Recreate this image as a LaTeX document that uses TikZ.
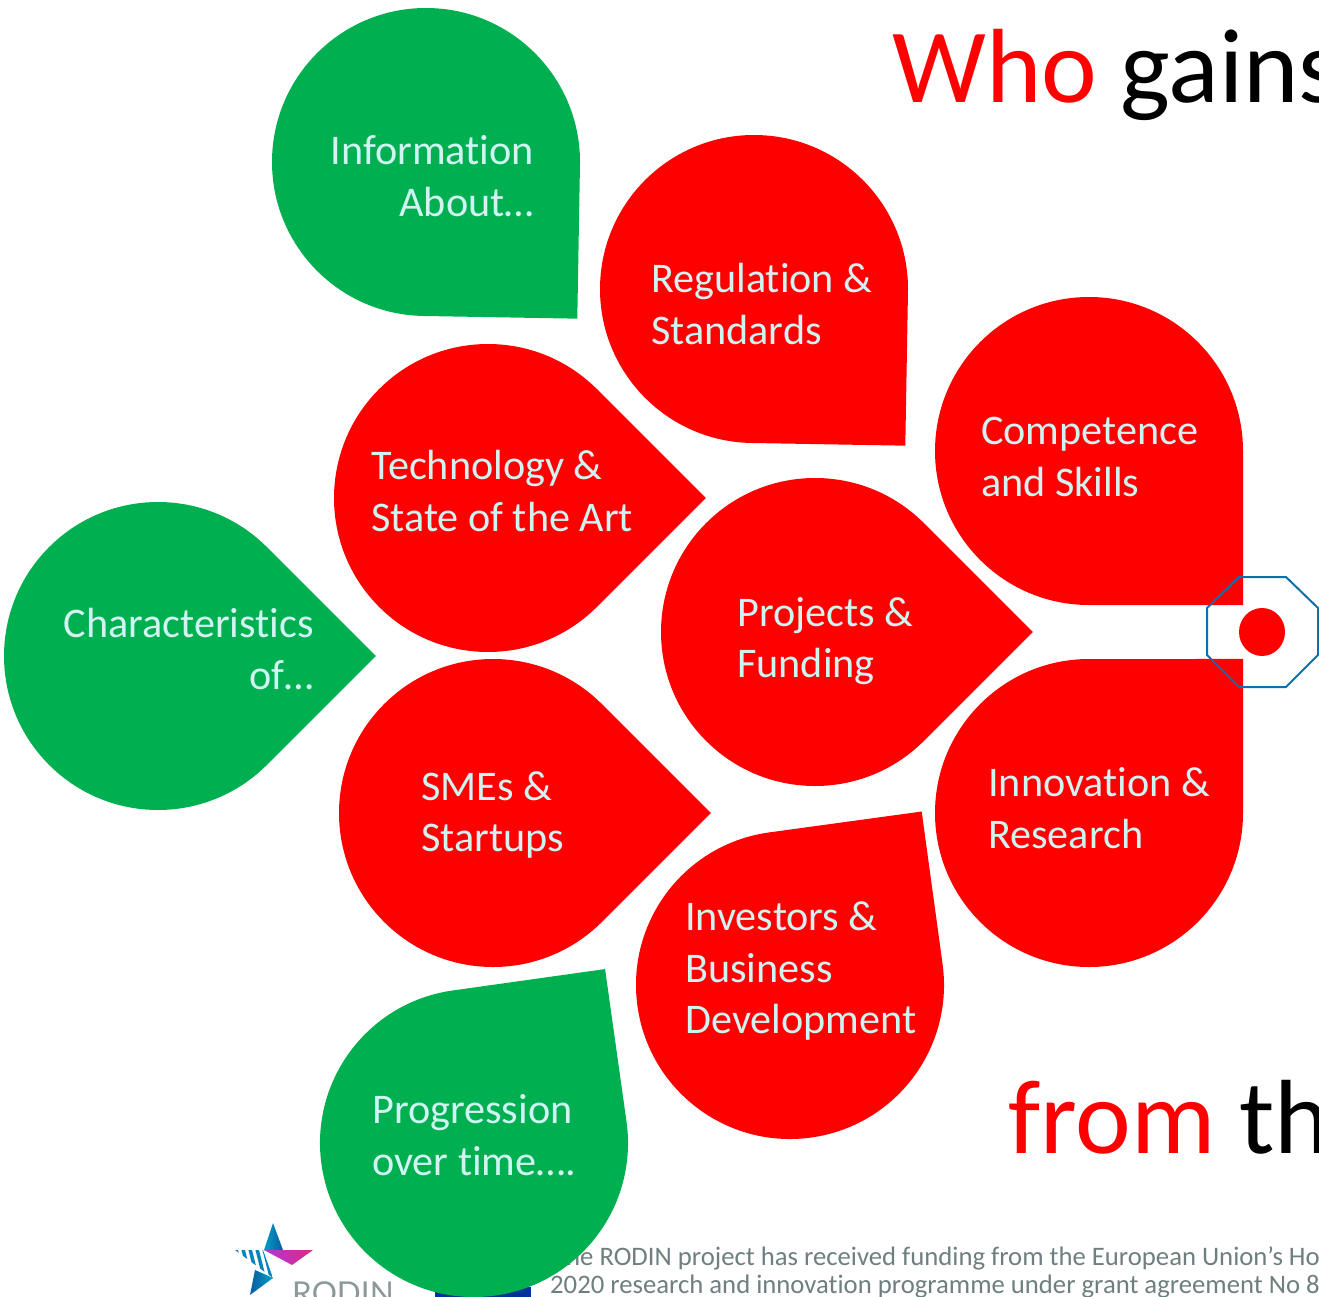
\documentclass[tikz,border=0pt]{standalone}
\usepackage{fontspec}
\setmainfont{Carlito}[Ligatures=NoCommon]
\newfontfamily\logofont{Lato}
\definecolor{pred}{HTML}{FF0000}
\definecolor{pgreen}{HTML}{00B050}
\definecolor{ptext}{HTML}{D0F4F2}
\definecolor{octa}{HTML}{0F6FAE}
\definecolor{foot}{HTML}{6F7F80}
\definecolor{euBlue}{HTML}{003399}
\definecolor{lgA}{HTML}{00A0C8}
\definecolor{lgB}{HTML}{0A5AA0}
\definecolor{lgC}{HTML}{B038D8}
\definecolor{lgD}{HTML}{DC2888}
\newcommand\petal[4]{%
  \path[fill=#4,shift={(#1,-#2)}] ({#3-45}:154) -- (#3:217.8) -- ({#3+45}:154)
    arc[start angle={#3+45},delta angle=270,radius=154] -- cycle;}
\tikzset{
  ptxt/.style={text=ptext,font=\fontsize{42.2}{51.3}\selectfont,inner sep=0pt,align=left,anchor=west},
  ptxtr/.style={text=ptext,font=\fontsize{42.2}{51.3}\selectfont,inner sep=0pt,align=right,anchor=east},
  title/.style={font=\fontsize{105.5}{105}\selectfont,inner sep=0pt,anchor=base west},
  foottxt/.style={text=foot,font=\fontsize{26.7}{26}\selectfont,inner sep=0pt,anchor=base west}
}
\begin{document}
\begin{tikzpicture}[x=1pt,y=1pt]
\useasboundingbox (0,0) rectangle (1319,-1297);
\clip (0,0) rectangle (1319,-1297);
\fill[white] (0,0) rectangle (1319,-1297);
% footer items
\node[foottxt] (f1) at (553,-1265) {The RODIN project has received funding from the European Union’s Ho};
\node[foottxt] (f2) at (550,-1293) {2020 research and innovation programme under grant agreement No 8};
\fill[euBlue] (435,-1287) rectangle (531,-1297);
% logo
\shade[left color=lgA,right color=lgB] (273,-1223) -- (283,-1250) -- (264,-1250) -- cycle;
\shade[left color=lgC,right color=lgD] (264,-1250) -- (313,-1250) -- (292,-1265) -- cycle;
\shade[left color=lgB,right color=lgA] (250,-1295) -- (255,-1270) -- (273,-1278) -- cycle;
\begin{scope}
\clip (235,-1250) -- (263,-1250) -- (273,-1278) -- cycle;
\foreach \d in {0,7,...,56}{\draw[lgA!60!lgB,line width=3.5pt] (228+\d,-1245) -- (238+\d,-1285);}
\end{scope}
\node[text=foot!80!white,font=\logofont\fontsize{31.5}{32}\selectfont,inner sep=0pt,anchor=base west] (rodin) at (292,-1304) {RODIN};
% titles
\node[title] (who) at (892,-103) {\textcolor{pred}{Who} gains};
\node[title] (from) at (1008,-1153) {\textcolor{pred}{from} th};
% petals
\petal{426}{162}{-46}{pgreen}
\petal{754}{289}{-46}{pred}
\petal{1089}{451}{-45}{pred}
\petal{1089}{813}{45}{pred}
\petal{815}{632}{0}{pred}
\petal{488}{498}{0}{pred}
\petal{158}{656}{0}{pgreen}
\petal{493}{813}{0}{pred}
\petal{790}{985}{52.8}{pred}
\petal{474}{1143}{53}{pgreen}
% centre
\draw[octa,line width=2pt] (1239,-577) -- (1286,-577) -- (1318,-608) -- (1318,-655) -- (1286,-687) -- (1239,-687) -- (1207,-655) -- (1207,-608) -- cycle;
\fill[pred] (1262,-632) ellipse[x radius=23,y radius=24];
% labels
\node[ptxtr] (info) at (534,-176) {Information\\About…};
\node[ptxt] (reg) at (651,-304) {Regulation \&\\Standards};
\node[ptxt] (comp) at (981,-457) {Competence\\and Skills};
\node[ptxt] (inno) at (988,-808) {Innovation \&\\Research};
\node[ptxt] (proj) at (737,-641) {Projects \&\\Funding};
\node[ptxt] (tech) at (371,-491) {Technology \&\\State of the Art};
\node[ptxtr] (char) at (314,-649) {Characteristics\\of…};
\node[ptxt] (sme) at (421,-815) {SMEs \&\\Startups};
\node[ptxt] (inv) at (685,-971) {Investors \&\\Business\\Development};
\node[ptxt] (prog) at (372,-1135) {Progression\\over time….};
\end{tikzpicture}
\end{document}
